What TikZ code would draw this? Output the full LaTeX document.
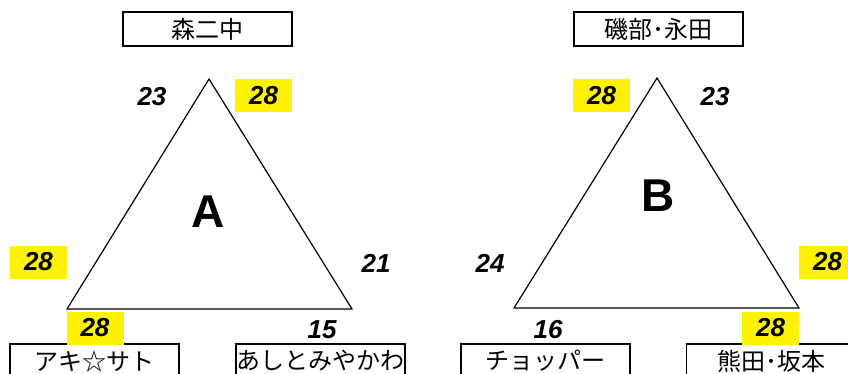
\documentclass[tikz,border=0pt]{standalone}
\usepackage{fontspec}
\setmainfont{Liberation Sans}
\newfontfamily\jpfont{Noto Sans CJK JP}
\usetikzlibrary{positioning}

\begin{document}
\begin{tikzpicture}[x=1pt, y=-1pt]
		\tikzset{
			namebox/.style={draw, line width=1.6pt, minimum width=169pt, minimum height=34pt, inner sep=0pt, font=\jpfont\fontsize{24}{24}\selectfont},
			score/.style={inner sep=0pt, font=\bfseries\itshape\fontsize{26}{26}\selectfont},
			best/.style={score, fill=yellow, minimum width=57pt, minimum height=33pt},
			tri/.style={draw, line width=1.2pt, line join=miter},
			group/.style={font=\bfseries\fontsize{46}{46}\selectfont}
		}
		\useasboundingbox (0,0) rectangle (848,374);
		
		% Triangle A
		\coordinate (a1) at (209,79);
		\coordinate (a2) at (67,309);
		\coordinate (a3) at (352,309);
		\draw[tri] (a1) -- (a2) -- (a3) -- cycle;
		\node[group] (labA) at (208,212) {A};
		
		% Triangle B
		\coordinate (b1) at (657,78);
		\coordinate (b2) at (514,308);
		\coordinate (b3) at (799,308);
		\draw[tri] (b1) -- (b2) -- (b3) -- cycle;
		\node[group] (labB) at (658,196) {B};
		
		% Teams of A
		\node[namebox] (moriA) at (207.5,29) {森二中};
		\node[namebox] (akiA) at (94.5,361) {アキ☆サト};
		\node[namebox] (ashiA) at (320.5,361) {あしとみやかわ};
		
		% Teams of B
		\node[namebox] (isoB) at (658.5,29) {磯部･永田};
		\node[namebox] (chopB) at (545.5,361) {チョッパー};
		\node[namebox] (kumaB) at (771,361) {熊田･坂本};
		
		% Scores of A
		\node[score] (sA1) at (152,97) {23};
		\node[best] (sA2) at (263.5,96) {28};
		\node[best] (sA3) at (38.5,262) {28};
		\node[score] (sA4) at (376,263) {21};
		\node[best] (sA5) at (95,328) {28};
		\node[score] (sA6) at (322,330) {15};
		
		% Scores of B
		\node[best] (sB1) at (601.5,96) {28};
		\node[score] (sB2) at (715,97) {23};
		\node[score] (sB3) at (490,263) {24};
		\node[best] (sB4) at (827.5,262) {28};
		\node[score] (sB5) at (548,330) {16};
		\node[best] (sB6) at (770.5,328) {28};
		
	\end{tikzpicture}
\end{document}
